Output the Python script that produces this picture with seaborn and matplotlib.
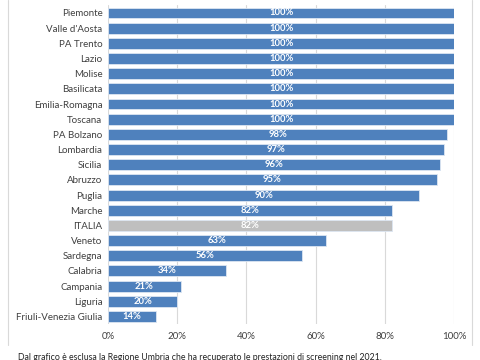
import matplotlib
matplotlib.use("Agg")
import matplotlib.pyplot as plt
import seaborn as sns
import pandas as pd
from matplotlib.lines import Line2D

regions = ["Piemonte", "Valle d'Aosta", "PA Trento", "Lazio", "Molise", "Basilicata",
           "Emilia-Romagna", "Toscana", "PA Bolzano", "Lombardia", "Sicilia", "Abruzzo",
           "Puglia", "Marche", "ITALIA", "Veneto", "Sardegna", "Calabria", "Campania",
           "Liguria", "Friuli-Venezia Giulia"]
values = [100, 100, 100, 100, 100, 100, 100, 100, 98, 97, 96, 95, 90, 82, 82, 63, 56, 34, 21, 20, 14]
x_ticks = [0, 20, 40, 60, 80, 100]
x_tick_labels = ["0%", "20%", "40%", "60%", "80%", "100%"]
caption = "Dal grafico è esclusa la Regione Umbria che ha recuperato le prestazioni di screening nel 2021."

df = pd.DataFrame({"region": regions, "value": values})
df["group"] = ["italia" if r == "ITALIA" else "reg" for r in regions]
palette = {"reg": "#4F81BD", "italia": "#BFBFBF"}

sns.set_style("white")
plt.rcParams["font.family"] = ["Lato", "DejaVu Sans"]

fig = plt.figure(figsize=(4.8, 3.6), dpi=100)
ax = fig.add_axes([0.225, 0.1, 0.721, 0.885])

sns.barplot(data=df, x="value", y="region", hue="group", palette=palette, orient="h",
            dodge=False, legend=False, width=0.72, saturation=1,
            edgecolor="#DCE6F2", linewidth=0.6, ax=ax)

for i, v in enumerate(values):
    ax.text(v / 2, i, f"{v}%", ha="center", va="center", color="white",
            fontsize=6.8, fontweight="bold")

ax.set_xlim(0, 100)
ax.set_ylim(20.5, -0.5)
ax.set_xticks(x_ticks)
ax.set_xticklabels(x_tick_labels, fontsize=7, color="#404040")
ax.tick_params(axis="y", labelsize=7, colors="#404040", length=0, pad=4)
ax.tick_params(axis="x", length=0, pad=6)
ax.set_xlabel("")
ax.set_ylabel("")
ax.grid(axis="x", color="#D9D9D9", linewidth=0.8)
ax.set_axisbelow(True)
for s in ax.spines.values():
    s.set_visible(False)

fig.text(18 / 480, 1 - 357 / 360, caption, fontsize=6.3, color="#222222", va="center", ha="left")
fig.add_artist(Line2D([8 / 480, 8 / 480], [1 - 345 / 360, 1.0], transform=fig.transFigure,
                      color="#D9D9D9", linewidth=0.8))
fig.add_artist(Line2D([472 / 480, 472 / 480], [1 - 345 / 360, 1.0], transform=fig.transFigure,
                      color="#D9D9D9", linewidth=0.8))

fig.savefig("out.png", dpi=100)
